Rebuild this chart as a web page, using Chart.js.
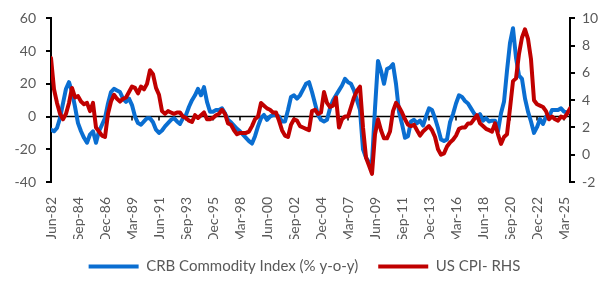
<!DOCTYPE html>
<html>
<head>
<meta charset="utf-8">
<script src="https://cdn.jsdelivr.net/npm/chart.js@4.4.0/dist/chart.umd.min.js"></script>
<style>
  html, body { margin: 0; padding: 0; background: #fff; }
  #wrap { width: 609px; height: 285px; }
</style>
</head>
<body>
<div id="wrap"><canvas id="chart" width="609" height="285"></canvas></div>
<script>
// quarterly samples, month 0 = Jun-82
const tickLabels = ['Jun-82', 'Sep-84', 'Dec-86', 'Mar-89', 'Jun-91', 'Sep-93', 'Dec-95', 'Mar-98', 'Jun-00', 'Sep-02',
  'Dec-04', 'Mar-07', 'Jun-09', 'Sep-11', 'Dec-13', 'Mar-16', 'Jun-18', 'Sep-20', 'Dec-22', 'Mar-25'];

// CRB Commodity Index (% y-o-y), left axis
const crbYoY = [
  -8, -9, -7, -1, 8, 17, 21, 15, 6, -4,
  -9, -13, -16, -11, -9, -16, -9, -5, -1, 8,
  15, 17, 16, 15, 11, 9, 11, 7, 0, -4,
  -5, -3, -1, -1, -3.5, -8, -10, -8.5, -6, -4,
  -2, -1, -3, -4.5, -1, 1, 6, 10, 13, 17,
  13, 18, 9, 3, 3, 4, 4, 5, 2, -2,
  -3.5, -5.5, -7.5, -9, -11, -13, -15, -16.5, -12, -6,
  -1, 1, -2, 0, 1, 1, 0, -3, -3, 4,
  12, 13, 11, 13, 16.5, 20, 21, 15, 8, 1,
  -2, -3, -2, 5, 10, 13, 16, 19, 23, 21,
  20, 16, 10, 4, -20, -25, -28, -28, 5, 34,
  28, 20, 29, 30, 32, 20, 3, -4.5, -13, -12,
  -3, -2, -4, -2.5, -5.5, 0, 5, 4, -1, -7,
  -14, -15, -14, -3.5, 1.5, 8, 13, 12, 9.5, 8,
  5, 2, -0.5, 1.5, -2.5, -1, -3, -2.5, -2.5, -9,
  2, 9, 28, 45, 54, 36, 25, 23, 11, 3,
  -3, -10, -6.5, -1.5, -4.5, 0, 0, 4, 4, 4,
  5, 3, 2.5, 3
];

// US CPI (% y-o-y), right axis
const usCpi = [
  7.1, 4.8, 3.8, 3.0, 2.6, 3.0, 3.8, 4.9, 4.2, 4.3,
  3.9, 3.7, 3.8, 3.2, 3.8, 2.0, 1.7, 1.4, 1.3, 3.0,
  3.9, 4.4, 4.1, 3.9, 4.1, 4.2, 4.6, 5.0, 4.9, 4.5,
  5.0, 4.8, 5.2, 6.2, 5.9, 4.9, 4.4, 3.2, 3.0, 3.2,
  3.1, 3.0, 3.1, 3.1, 2.8, 2.7, 2.5, 2.4, 2.9, 2.7,
  2.9, 3.1, 2.6, 2.6, 2.7, 2.9, 3.0, 3.3, 3.0, 2.3,
  2.2, 1.8, 1.5, 1.6, 1.6, 1.6, 1.7, 2.1, 2.6, 2.8,
  3.8, 3.6, 3.4, 3.3, 3.1, 3.1, 2.5, 1.8, 1.4, 1.3,
  2.2, 2.6, 2.5, 2.1, 2.0, 1.9, 1.8, 3.2, 3.3, 3.0,
  3.1, 4.6, 3.8, 3.5, 3.6, 4.2, 2.0, 2.6, 2.8, 2.8,
  3.5, 4.2, 4.7, 5.0, 2.0, -0.2, -0.8, -1.4, 1.5, 2.6,
  1.8, 1.2, 1.2, 1.7, 3.2, 3.8, 3.5, 3.1, 2.6, 2.2,
  2.1, 2.2, 1.8, 1.4, 1.7, 1.9, 2.1, 1.8, 1.3, 0.4,
  0.0, 0.1, 0.6, 0.9, 1.1, 1.4, 1.9, 2.0, 2.0, 2.3,
  2.3, 2.6, 2.9, 2.3, 2.1, 1.9, 1.8, 1.7, 2.3, 1.5,
  0.8, 1.3, 1.5, 3.4, 5.4, 5.6, 7.4, 8.6, 9.2, 8.5,
  7.0, 4.0, 3.7, 3.6, 3.5, 3.2, 2.6, 2.8, 2.6, 2.5,
  2.8, 2.7, 3.0, 3.4
];

const MONTHS_PER_STEP = 3;   // one sample a quarter
const MONTHS_PER_LABEL = 27; // a label every 27 months

const grey = '#595959';
const font = { family: 'Lato', size: 14 };

const toPoints = arr => arr.map((v, i) => ({ x: i * MONTHS_PER_STEP, y: v }));

// black line at 0 on the left axis, with small ticks under it
const zeroLine = {
  id: 'zeroLine',
  beforeDatasetsDraw(chart) {
    const { ctx, chartArea, scales } = chart;
    const y0 = scales.y.getPixelForValue(0);
    ctx.save();
    ctx.strokeStyle = '#000';
    ctx.lineWidth = 1.5;
    ctx.beginPath();
    ctx.moveTo(chartArea.left, y0);
    ctx.lineTo(chartArea.right, y0);
    scales.x.ticks.forEach(t => {
      const x = scales.x.getPixelForValue(t.value);
      ctx.moveTo(x, y0);
      ctx.lineTo(x, y0 + 4);
    });
    ctx.stroke();
    ctx.restore();
  }
};

new Chart(document.getElementById('chart'), {
  type: 'line',
  data: {
    datasets: [
      {
        label: 'CRB Commodity Index (% y-o-y)',
        data: toPoints(crbYoY),
        yAxisID: 'y',
        borderColor: '#0A6ED1',
        backgroundColor: '#0A6ED1',
        borderWidth: 4,
        borderJoinStyle: 'round',
        borderCapStyle: 'round',
        pointRadius: 0,
        order: 2
      },
      {
        label: 'US CPI- RHS',
        data: toPoints(usCpi),
        yAxisID: 'y1',
        borderColor: '#C00000',
        backgroundColor: '#C00000',
        borderWidth: 4,
        borderJoinStyle: 'round',
        borderCapStyle: 'round',
        pointRadius: 0,
        order: 1
      }
    ]
  },
  options: {
    responsive: false,
    animation: false,
    layout: { padding: { top: 5, bottom: 1 } },
    plugins: {
      tooltip: { enabled: false },
      legend: {
        position: 'bottom',
        labels: {
          usePointStyle: true,
          pointStyle: 'line',
          pointStyleWidth: 50,
          padding: 20,
          color: grey,
          font: { family: 'Lato', size: 15 },
          sort: (a, b) => a.datasetIndex - b.datasetIndex
        }
      }
    },
    scales: {
      x: {
        type: 'linear',
        min: 0,
        max: (crbYoY.length - 1) * MONTHS_PER_STEP,
        afterBuildTicks: scale => {
          scale.ticks = tickLabels.map((t, k) => ({ value: k * MONTHS_PER_LABEL }));
        },
        afterFit: scale => { scale.height = 57; },
        grid: { display: false },
        border: { display: false },
        ticks: {
          autoSkip: false,
          minRotation: 90,
          maxRotation: 90,
          padding: 7,
          color: grey,
          font: font,
          callback: v => tickLabels[Math.round(v / MONTHS_PER_LABEL)]
        }
      },
      y: {
        position: 'left',
        min: -40,
        max: 60,
        afterFit: scale => { scale.width = 51; },
        grid: { drawOnChartArea: false, drawTicks: true, tickLength: 5, color: '#000', lineWidth: 2 },
        border: { display: true, color: '#000', width: 2 },
        ticks: { stepSize: 20, padding: 10, color: grey, font: font }
      },
      y1: {
        position: 'right',
        min: -2,
        max: 10,
        afterFit: scale => { scale.width = 39; },
        grid: { drawOnChartArea: false, drawTicks: true, tickLength: 5, color: '#000', lineWidth: 2 },
        border: { display: true, color: '#000', width: 2 },
        ticks: { stepSize: 2, padding: 7, color: grey, font: font }
      }
    }
  },
  plugins: [zeroLine]
});
</script>
</body>
</html>
